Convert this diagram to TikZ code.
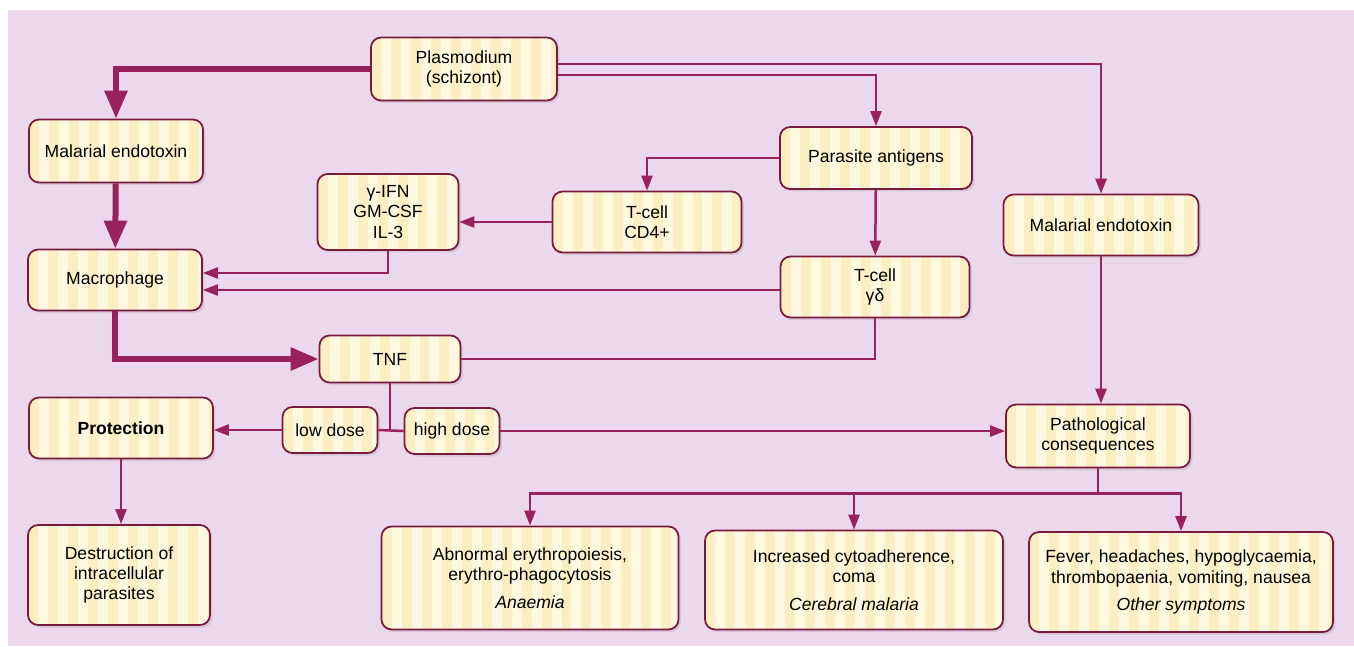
\documentclass[tikz,border=0pt]{standalone}
\usepackage{fontspec}
\setmainfont{Liberation Sans}
\usetikzlibrary{
    arrows.meta,
    shadows
}
\definecolor{malbg}{RGB}{236,216,236}
\definecolor{malcream}{RGB}{255,248,224}
\definecolor{malstripe}{RGB}{250,228,160}
\definecolor{malline}{RGB}{152,34,90}
\definecolor{maledge}{RGB}{120,26,62}

\begin{document}
\begin{tikzpicture}[
    x=0.02cm,
    y=-0.02cm,
    font=\fontsize{10}{11.5}\selectfont,
    cell/.style={
        draw=maledge,
        line width=1pt,
        rounded corners=0.2cm,
        fill=malcream,
        align=center,
        inner sep=2pt,
        minimum height=1.24cm,
        drop shadow={opacity=0.2, shadow xshift=0.05cm, shadow yshift=-0.05cm},
        path picture={
            \foreach \k in {0,...,16}
                \fill[malstripe, opacity=0.45, sharp corners]
                    ([xshift=\k*0.4cm]path picture bounding box.south west)
                    rectangle +(0.2cm,3cm);
        }
    },
    flow/.style={
        -{Triangle[length=0.3cm,width=0.22cm]},
        line width=0.05cm,
        draw=malline
    },
    link/.style={
        line width=0.05cm,
        draw=malline
    },
    mainflow/.style={
        -{Triangle[length=0.56cm,width=0.44cm]},
        line width=0.12cm,
        draw=malline
    }
]

\useasboundingbox (0,0) rectangle (1354,646);
\fill[white] (0,0) rectangle (1354,646);
\fill[malbg] (8,10) rectangle (1354,646);

% top row
\node[cell, minimum width=3.72cm, minimum height=1.26cm] (plasmo) at (464,69) {
    Plasmodium\\
    (schizont)
};
\node[cell, minimum width=3.48cm, minimum height=1.26cm] (endoL) at (116,151) {Malarial endotoxin};
\node[cell, minimum width=3.84cm] (antigens) at (876,158) {Parasite antigens};

% cells and cytokines
\node[cell, minimum width=2.82cm, minimum height=1.52cm] (cyto) at (388,212) {
    γ-IFN\\
    GM-CSF\\
    IL-3
};
\node[cell, minimum width=3.78cm, minimum height=1.22cm] (cdfour) at (647,222) {
    T-cell\\
    CD4+
};
\node[cell, minimum width=3.9cm, minimum height=1.22cm] (endoR) at (1101,225) {Malarial endotoxin};
\node[cell, minimum width=3.48cm, minimum height=1.22cm] (macro) at (115,280) {Macrophage};
\node[cell, minimum width=3.78cm, minimum height=1.22cm] (gammadelta) at (875,287) {
    T-cell\\
    γδ
};

% TNF and doses
\node[cell, minimum width=2.82cm, minimum height=0.94cm] (tnf) at (390,359) {TNF};
\node[cell, minimum width=3.68cm, minimum height=1.22cm] (protect) at (121,428) {\textbf{Protection}};
\node[cell, minimum width=1.9cm, minimum height=0.92cm] (lowdose) at (330,430) {low dose};
\node[cell, minimum width=1.9cm, minimum height=0.92cm] (highdose) at (452,431) {high dose};
\node[cell, minimum width=3.68cm, minimum height=1.26cm] (patho) at (1098,436) {
    Pathological\\
    consequences
};

% outcomes
\node[cell, minimum width=3.64cm, minimum height=2.0cm] (destroy) at (119,575) {
    Destruction of\\
    intracellular\\
    parasites
};
\node[cell, minimum width=5.94cm, minimum height=2.06cm] (anaemia) at (530,578) {
    Abnormal erythropoiesis,\\
    erythro-phagocytosis\\[4pt]
    \textit{Anaemia}
};
\node[cell, minimum width=5.96cm, minimum height=1.98cm] (cerebral) at (854,580) {
    Increased cytoadherence,\\
    coma\\[4pt]
    \textit{Cerebral malaria}
};
\node[cell, minimum width=6.08cm, minimum height=2.0cm] (other) at (1181,582) {
    Fever, headaches, hypoglycaemia,\\
    thrombopaenia, vomiting, nausea\\[4pt]
    \textit{Other symptoms}
};

% main route
\draw[mainflow] (plasmo.west) -| (endoL.north);
\draw[mainflow] (endoL) -- (macro);
\draw[mainflow] (macro.south) |- (tnf.west);

% antigen route
\draw[flow] ([yshift=0.1cm]plasmo.east) -| (endoR.north);
\draw[flow] ([yshift=-0.12cm]plasmo.east) -| (antigens.north);
\draw[flow] (antigens.west) -| (cdfour.north);
\draw[flow] (antigens) -- (gammadelta);
\draw[flow] (cdfour.west) -- (cdfour.west -| cyto.east);
\draw[flow] (cyto.south) |- ([yshift=0.14cm]macro.east);
\draw[flow] ([yshift=-0.06cm]gammadelta.west) -- ([yshift=-0.06cm]gammadelta.west -| macro.east);
\draw[link] (gammadelta.south) |- (tnf.east);

% doses
\draw[link] (tnf.south) -- (tnf.south |- lowdose.east);
\draw[link] (lowdose.east) -- (highdose.west);
\draw[flow] (lowdose.west) -- (lowdose.west -| protect.east);
\draw[flow] (highdose.east) -- (highdose.east -| patho.west);
\draw[flow] (protect.south) -- (protect.south |- destroy.north);
\draw[flow] (endoR.south) -- (endoR.south |- patho.north);

% consequences
\draw[flow] (patho.south) -- ++(0,25) -| (anaemia.north);
\draw[flow] (patho.south) -- ++(0,25) -| (cerebral.north);
\draw[flow] (patho.south) -- ++(0,25) -| (other.north);

\end{tikzpicture}
\end{document}
